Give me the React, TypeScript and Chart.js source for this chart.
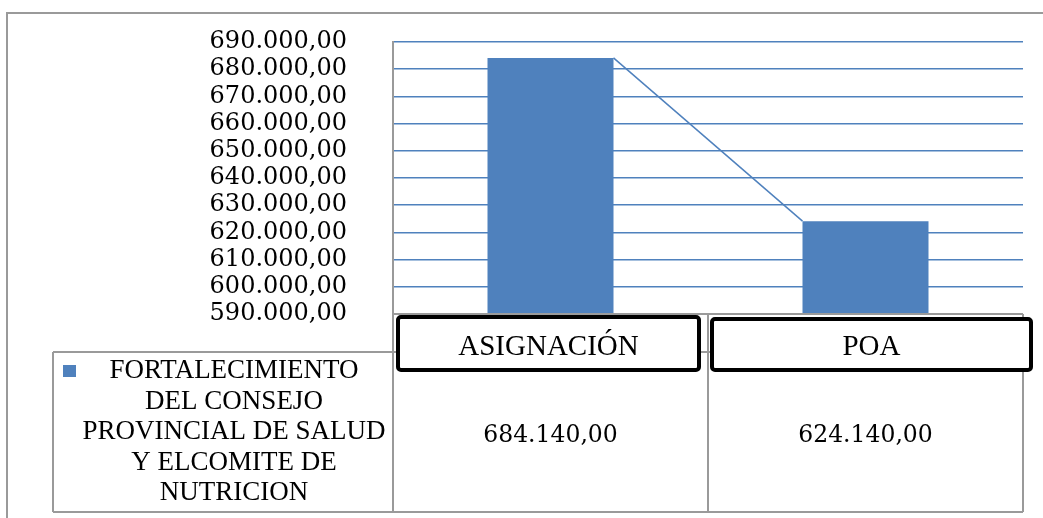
import React, { useEffect, useRef } from 'react';
import { Chart, registerables } from 'chart.js';

Chart.register(...registerables);

const categories = ['ASIGNACIÓN', 'POA'];
const seriesLabel = 'FORTALECIMIENTO DEL CONSEJO PROVINCIAL DE SALUD Y ELCOMITE DE NUTRICION';
const seriesLabelLines = ['FORTALECIMIENTO', 'DEL CONSEJO', 'PROVINCIAL DE SALUD', 'Y ELCOMITE DE', 'NUTRICION'];
const seriesValues = [684140, 624140];
const yMin = 590000;
const yMax = 690000;
const yStep = 10000;

const BLUE = '#4F81BD';
const GREY = '#9a9a9a';
const NUM_FONT = '"DejaVu Serif", serif';
const TXT_FONT = '"Liberation Serif", "Times New Roman", serif';

function fmt(v: number): string {
  const [i, d] = v.toFixed(2).split('.');
  return i.replace(/\B(?=(\d{3})+(?!\d))/g, '.') + ',' + d;
}

const excelPlugin = {
  id: 'excelExtras',
  beforeDraw(chart: any) {
    const ctx = chart.ctx;
    ctx.save();
    ctx.strokeStyle = GREY;
    ctx.lineWidth = 2;
    ctx.beginPath();
    ctx.moveTo(7, chart.height);
    ctx.lineTo(7, 13);
    ctx.lineTo(chart.width, 13);
    ctx.stroke();
    ctx.restore();
  },
  afterDatasetsDraw(chart: any) {
    const meta = chart.getDatasetMeta(0);
    const ctx = chart.ctx;
    ctx.save();
    ctx.strokeStyle = BLUE;
    ctx.lineWidth = 1.5;
    ctx.beginPath();
    for (let i = 0; i < meta.data.length - 1; i++) {
      const a = meta.data[i];
      const b = meta.data[i + 1];
      ctx.moveTo(a.x + a.width / 2, a.y);
      ctx.lineTo(b.x - b.width / 2, b.y);
    }
    ctx.stroke();
    ctx.restore();
  },
  afterDraw(chart: any) {
    const ctx = chart.ctx;
    const area = chart.chartArea;
    const xs = chart.scales.x;
    const n = categories.length;
    const colW = (area.right - area.left) / n;
    const top = area.bottom;
    const headBottom = 352;
    const bottom = 512;
    const legendLeft = 53;

    ctx.save();
    ctx.strokeStyle = GREY;
    ctx.lineWidth = 2;
    ctx.beginPath();
    ctx.moveTo(area.left, top);
    ctx.lineTo(area.right, top);
    ctx.moveTo(legendLeft, headBottom);
    ctx.lineTo(area.right, headBottom);
    ctx.moveTo(legendLeft, bottom);
    ctx.lineTo(area.right, bottom);
    ctx.moveTo(legendLeft, headBottom);
    ctx.lineTo(legendLeft, bottom);
    for (let i = 0; i <= n; i++) {
      const x = area.left + i * colW;
      ctx.moveTo(x, top);
      ctx.lineTo(x, bottom);
    }
    ctx.stroke();

    ctx.fillStyle = BLUE;
    ctx.fillRect(63, 365, 13, 12);
    ctx.fillStyle = '#000';
    ctx.font = '27px ' + TXT_FONT;
    ctx.textAlign = 'center';
    ctx.textBaseline = 'alphabetic';
    seriesLabelLines.forEach((line, i) => {
      ctx.fillText(line, 234, 378 + i * 30.5);
    });

    ctx.font = '23.5px ' + NUM_FONT;
    seriesValues.forEach((v, i) => {
      const cx = xs.getPixelForValue(i);
      ctx.fillText(fmt(v), cx, 442);
    });

    const boxes = [
      { l: area.left + 3, r: area.left + colW - 7, t: 315, b: 372 },
      { l: area.left + colW + 2, r: area.right + 10, t: 317, b: 372 },
    ];
    categories.forEach((c, i) => {
      const bx = boxes[i];
      ctx.fillStyle = '#fff';
      ctx.strokeStyle = '#000';
      ctx.lineWidth = 4;
      ctx.beginPath();
      if (ctx.roundRect) {
        ctx.roundRect(bx.l + 2, bx.t + 2, bx.r - bx.l - 4, bx.b - bx.t - 4, 3);
      } else {
        ctx.rect(bx.l + 2, bx.t + 2, bx.r - bx.l - 4, bx.b - bx.t - 4);
      }
      ctx.fill();
      ctx.stroke();
      ctx.fillStyle = '#000';
      ctx.font = '29px ' + TXT_FONT;
      ctx.textAlign = 'center';
      ctx.fillText(c, (bx.l + bx.r) / 2, 355);
    });
    ctx.restore();
  },
};

export default function App() {
  const ref = useRef<HTMLCanvasElement | null>(null);

  useEffect(() => {
    if (!ref.current) return;
    const chart = new Chart(ref.current, {
      type: 'bar',
      data: {
        labels: categories,
        datasets: [
          {
            label: seriesLabel,
            data: seriesValues,
            backgroundColor: BLUE,
            borderWidth: 0,
            categoryPercentage: 1,
            barPercentage: 0.4,
          },
        ],
      },
      options: {
        responsive: false,
        animation: false,
        layout: { padding: { top: 42, bottom: 204, left: 0, right: 20 } },
        plugins: {
          legend: { display: false },
          tooltip: { enabled: false },
        },
        scales: {
          x: { display: false },
          y: {
            min: yMin,
            max: yMax,
            afterFit: (s: any) => {
              s.width = 393;
              s.paddingTop = 0;
              s.paddingBottom = 0;
            },
            ticks: {
              stepSize: yStep,
              autoSkip: false,
              padding: 46,
              color: '#000',
              font: { family: NUM_FONT, size: 24 },
              callback: (v: any) => fmt(Number(v)),
            },
            grid: {
              drawTicks: false,
              lineWidth: 1.5,
              color: (c: any) => (c.tick && c.tick.value === yMin ? 'rgba(0,0,0,0)' : BLUE),
            },
            border: { display: true, color: GREY, width: 2 },
          },
        },
      },
      plugins: [excelPlugin],
    });
    return () => chart.destroy();
  }, []);

  return (
    <div style={{ position: 'absolute', left: 0, top: 0, width: 1043, height: 518, background: '#fff' }}>
      <canvas ref={ref} width={1043} height={518} style={{ display: 'block' }} />
    </div>
  );
}
